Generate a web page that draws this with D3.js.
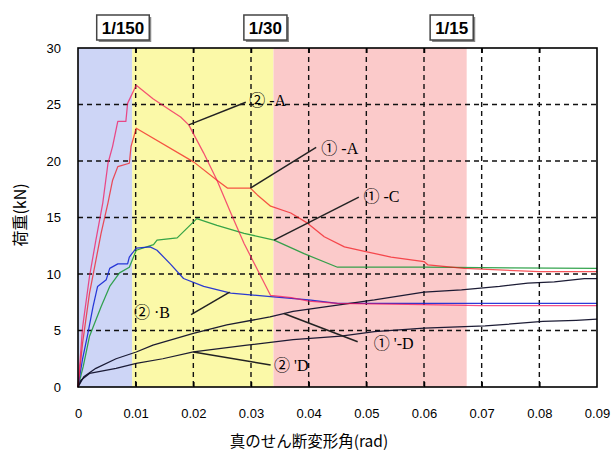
<!DOCTYPE html>
<html><head><meta charset="utf-8">
<script src="https://cdn.jsdelivr.net/npm/d3@7"></script>
<style>html,body{margin:0;padding:0;background:#fff;}svg{display:block;}</style>
</head><body><svg id="c" width="615" height="453"></svg>
<script>
// ---- data ----
const xTicks = [0,0.01,0.02,0.03,0.04,0.05,0.06,0.07,0.08,0.09];
const xTickLabels = ["0","0.01","0.02","0.03","0.04","0.05","0.06","0.07","0.08","0.09"];
const yTicks = [0,5,10,15,20,25,30];
const bands = [[0,0.0094,"#cdd5f6"],[0.0094,0.0339,"#fbf9a8"],[0.0339,0.0674,"#fbcaca"]];
const driftLabels = ["1/150","1/30","1/15"];
const driftLabelX = [0.0078,0.0325,0.0648];

const s2A = [[0,0],[0.0008,5.3],[0.002,9.8],[0.0031,13],[0.0043,16.3],[0.0052,19.8],[0.006,21.3],[0.0069,23.5],[0.0083,23.5],[0.0086,25.1],[0.0101,26.7],[0.013,25.5],[0.016,24.5],[0.0178,23.9],[0.0192,23.2],[0.0218,20.7],[0.0241,18.3],[0.0265,15.4],[0.0288,12.7],[0.0311,10.4],[0.0334,8.1],[0.037,7.9],[0.04,7.6],[0.045,7.4],[0.06,7.3],[0.07,7.2],[0.09,7.2]];
const s1A = [[0,0],[0.0008,3.9],[0.002,8.3],[0.0031,11.2],[0.004,13.6],[0.0052,16.3],[0.006,18.3],[0.0069,19.5],[0.0089,19.8],[0.0092,21.3],[0.0101,22.9],[0.0201,19.9],[0.0241,18.3],[0.0259,17.6],[0.0299,17.6],[0.0311,17.0],[0.0334,16.0],[0.0369,15.4],[0.0398,14.5],[0.0427,13.3],[0.0462,12.4],[0.0497,12.0],[0.0543,11.5],[0.06,11.1],[0.0607,10.8],[0.067,10.5],[0.08,10.2],[0.09,10.2]];
const s2B = [[0,0],[0.0008,2.5],[0.0017,4.7],[0.0026,7.1],[0.0034,8.9],[0.0049,9.5],[0.0055,10.5],[0.0069,10.9],[0.0086,10.9],[0.0089,11.5],[0.0101,12.3],[0.0125,12.4],[0.0137,12.1],[0.016,10.9],[0.0183,9.6],[0.0218,8.9],[0.0265,8.3],[0.0334,8.0],[0.04,7.7],[0.045,7.4],[0.07,7.4],[0.09,7.4]];
const s1C = [[0,0],[0.0009,1.8],[0.002,4.5],[0.004,7.1],[0.0055,8.9],[0.0072,10.1],[0.0089,10.6],[0.0101,12.1],[0.0131,12.6],[0.0137,13.0],[0.0172,13.2],[0.0206,14.9],[0.0241,14.3],[0.0288,13.6],[0.034,13.0],[0.0392,11.8],[0.045,10.6],[0.06,10.6],[0.09,10.5]];
const s1D = [[0,0],[0.001,0.9],[0.0031,1.65],[0.0066,2.5],[0.0101,3.1],[0.013,3.7],[0.02,4.75],[0.0258,5.5],[0.0333,6.2],[0.0373,6.7],[0.0456,7.3],[0.0514,7.7],[0.06,8.4],[0.0665,8.6],[0.0731,8.9],[0.078,9.2],[0.0826,9.3],[0.0878,9.6],[0.09,9.6]];
const s2D = [[0,0],[0.0005,0.6],[0.002,1.2],[0.0066,1.65],[0.0101,2.1],[0.0147,2.5],[0.02,3.1],[0.0293,3.7],[0.0373,4.2],[0.0456,4.5],[0.0514,4.9],[0.06,5.2],[0.0706,5.4],[0.0806,5.8],[0.0864,5.9],[0.09,6.0]];

const seriesNames = ["①-C","②-B","①'-D","②'D","①-A","②-A"];
const seriesData = [s1C,s2B,s1D,s2D,s1A,s2A];
const seriesColors = ["#1f9a3c","#1426d4","#10102a","#10102a","#f2141a","#f2105a"];
const seriesOpacity = [0.9,0.9,0.95,0.95,0.72,0.72];

// annotations
const annCircled = ["②","①","①","②","①","②"];
const annSuffix = [" -A"," -A"," -C"," ·B"," '-D"," 'D"];
const annTextX = [0.0297,0.0422,0.0495,0.0097,0.0513,0.0340];
const annTextY = [25.4,21.1,16.9,6.6,3.9,1.87];
const annFrom = [[0.0192,23.2],[0.0299,17.6],[0.034,13.0],[0.0196,6.4],[0.0357,6.5],[0.020,3.1]];
const annTo = [[0.0291,25.2],[0.0413,21.2],[0.0487,16.8],[0.0263,8.4],[0.0485,4.0],[0.0334,1.95]];

// ---- drawing ----
const svg = d3.select("#c");
const L=78,R=597,T=48,B=387;
const x = d3.scaleLinear().domain([0,0.09]).range([L,R]);
const y = d3.scaleLinear().domain([0,30]).range([B,T]);

svg.append("g").selectAll("rect").data(bands).join("rect")
  .attr("x",d=>x(d[0])).attr("width",d=>x(d[1])-x(d[0]))
  .attr("y",T).attr("height",B-T).attr("fill",d=>d[2]);

// grid
const dash = "5,4";
svg.append("g").selectAll("line").data(yTicks.filter(v=>v>0&&v<30)).join("line")
  .attr("x1",L).attr("x2",R).attr("y1",d=>y(d)).attr("y2",d=>y(d))
  .attr("stroke","#111").attr("stroke-width",1.4).attr("stroke-dasharray",dash);
svg.append("g").selectAll("line").data(xTicks.filter(v=>v>0&&v<0.09)).join("line")
  .attr("x1",d=>x(d)).attr("x2",d=>x(d)).attr("y1",T).attr("y2",B)
  .attr("stroke","#111").attr("stroke-width",1.4).attr("stroke-dasharray",dash);

// series
const line = d3.line().x(d=>x(d[0])).y(d=>y(d[1]));
svg.append("g").selectAll("path").data(seriesData).join("path")
  .attr("d",line).attr("fill","none")
  .attr("stroke",(d,i)=>seriesColors[i]).attr("stroke-width",1.25)
  .attr("stroke-opacity",(d,i)=>seriesOpacity[i]).attr("stroke-linejoin","round");

// axes
const tickFont = "'Liberation Sans', Arial, sans-serif";
const gx = svg.append("g").attr("transform",`translate(0,${B})`)
  .call(d3.axisBottom(x).tickValues(xTicks).tickSize(0).tickPadding(22).tickFormat((d,i)=>xTickLabels[i]));
gx.select(".domain").remove();
gx.selectAll("text").attr("font-family",tickFont).attr("font-size",13).attr("fill","#000");
const gxi = svg.append("g").attr("transform",`translate(0,${B})`)
  .call(d3.axisBottom(x).tickValues(xTicks.slice(1,-1)).tickSize(-5).tickFormat(""));
gxi.select(".domain").remove(); gxi.selectAll("line").attr("stroke","#000").attr("stroke-width",1.5);
const gxt = svg.append("g").attr("transform",`translate(0,${T})`)
  .call(d3.axisTop(x).tickValues(xTicks.slice(1,-1)).tickSize(-5).tickFormat(""));
gxt.select(".domain").remove(); gxt.selectAll("line").attr("stroke","#000").attr("stroke-width",1.5);

const gy = svg.append("g").attr("transform",`translate(${L},0)`)
  .call(d3.axisLeft(y).tickValues(yTicks).tickSize(0).tickPadding(17));
gy.select(".domain").remove();
gy.selectAll("text").attr("font-family",tickFont).attr("font-size",13).attr("fill","#000");

svg.append("rect").attr("x",L).attr("y",T).attr("width",R-L).attr("height",B-T)
  .attr("fill","none").attr("stroke","#000").attr("stroke-width",1.6);

// titles
const jp = "'Noto Sans CJK JP', sans-serif";
svg.append("text").attr("x",309).attr("y",447).attr("text-anchor","middle")
  .attr("font-family",jp).attr("font-size",15.5).text("真のせん断変形角(rad)");
svg.append("text").attr("transform",`translate(26,215) rotate(-90)`).attr("text-anchor","middle")
  .attr("font-family",jp).attr("font-size",16).text("荷重(kN)");

// drift boxes
const dg = svg.append("g").selectAll("g").data(driftLabels).join("g")
  .attr("transform",(d,i)=>`translate(${x(driftLabelX[i])},28)`);
dg.each(function(d){
  const g=d3.select(this);
  g.append("text").attr("text-anchor","middle").attr("dy","0.36em")
    .attr("font-family","'Liberation Sans', Arial, sans-serif").attr("font-weight","bold")
    .attr("font-size",17).text(d);
  const w=this.getBBox().width+10;
  g.insert("rect","text").attr("x",-w/2+2).attr("y",-11).attr("width",w).attr("height",25).attr("fill","#888");
  g.insert("rect","text").attr("x",-w/2).attr("y",-13).attr("width",w).attr("height",25)
    .attr("fill","#fff").attr("stroke","#444").attr("stroke-width",1.5);
});

// annotations
const ag = svg.append("g");
annCircled.forEach((c,i)=>{
  ag.append("line").attr("x1",x(annFrom[i][0])).attr("y1",y(annFrom[i][1]))
    .attr("x2",x(annTo[i][0])).attr("y2",y(annTo[i][1]))
    .attr("stroke","#222").attr("stroke-width",1.5);
  const t=ag.append("text").attr("x",x(annTextX[i])).attr("y",y(annTextY[i])).attr("dy","0.35em")
    .attr("font-size",16);
  t.append("tspan").attr("font-family",jp).text(c);
  t.append("tspan").attr("font-family","'Liberation Serif', serif").text(annSuffix[i]);
});
</script></body></html>
